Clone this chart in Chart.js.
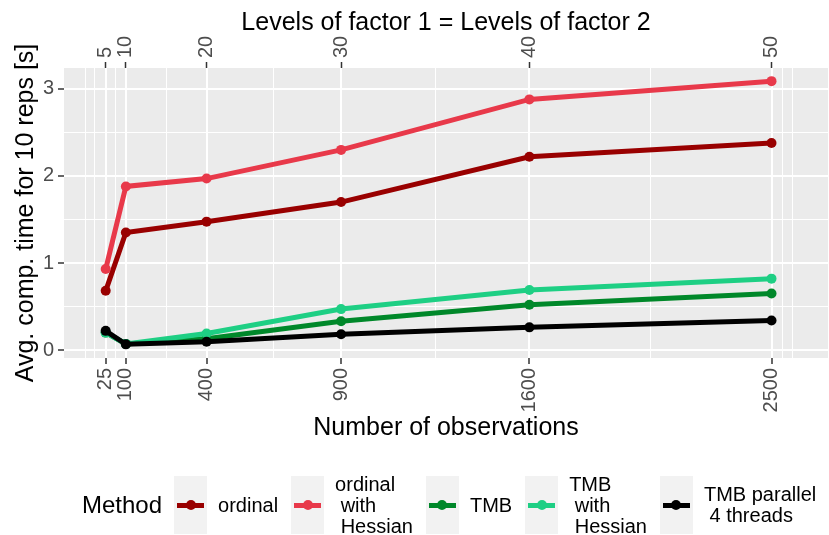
<!DOCTYPE html>
<html>
<head>
<meta charset="utf-8">
<script src="https://cdn.jsdelivr.net/npm/chart.js@4"></script>
<style>
  body { margin: 0; background: #fff; font-family: "Liberation Sans", Arial, sans-serif; overflow: hidden; }
  #wrap { position: relative; width: 829px; height: 535px; overflow: hidden; }
  #legend { position: absolute; left: 82px; top: 476px; height: 58px; display: flex; align-items: center; color: #000; }
  .ltitle { font-size: 24px; margin-right: 12px; }
  .key { position: relative; flex: none; width: 33px; height: 58px; background: #F2F2F2; margin-right: 11px; }
  .kline { position: absolute; left: 3px; right: 3px; top: 26.5px; height: 5px; }
  .kdot { position: absolute; left: 11.5px; top: 24px; width: 10px; height: 10px; border-radius: 50%; }
  .ltext { font-size: 20px; line-height: 21px; white-space: pre; margin-right: 13px; }
</style>
</head>
<body>
<div id="wrap">
  <canvas id="chart" width="833" height="535"></canvas>
  <div id="legend"></div>
</div>
<script>
// number of observations (bottom axis) and factor levels (top axis)
var nObs = [25, 100, 400, 900, 1600, 2500];
var levels = [5, 10, 20, 30, 40, 50];

// avg computation time for 10 reps [s]
var ordinal     = [0.68, 1.35, 1.475, 1.70, 2.22, 2.38];
var ordinalHess = [0.93, 1.88, 1.97, 2.30, 2.88, 3.09];
var tmb         = [0.20, 0.07, 0.13, 0.33, 0.52, 0.65];
var tmbHess     = [0.20, 0.07, 0.19, 0.47, 0.69, 0.82];
var tmbPar      = [0.22, 0.065, 0.095, 0.18, 0.26, 0.34];

var methods = ['ordinal', 'ordinal\n with\n Hessian', 'TMB', 'TMB\n with\n Hessian', 'TMB parallel\n 4 threads'];
var colors = ['#990000', '#E8394A', '#00882A', '#1ECF84', '#000000'];

var yTicks = [0, 1, 2, 3];
var yMinor = [0.5, 1.5, 2.5];
var xMinor = [-49, -15, 62.5, 250, 650, 1250, 2050, 2541, 2578];

Chart.defaults.font.family = '"Liberation Sans", Arial, sans-serif';

var series = [ordinal, ordinalHess, tmb, tmbHess, tmbPar];
var datasets = series.map(function(vals, i) {
  return {
    label: methods[i],
    data: vals.map(function(v, j) { return {x: nObs[j], y: v}; }),
    borderColor: colors[i],
    backgroundColor: colors[i],
    borderWidth: 5,
    pointRadius: 5,
    pointBorderWidth: 0,
    pointHoverRadius: 5,
    tension: 0,
    order: series.length - i
  };
});

function isMajorX(v) { return nObs.indexOf(v) >= 0; }
function isMajorY(v) { return yTicks.indexOf(v) >= 0; }

// no extra side padding from the rotated labels
function noPad(s) { s.paddingLeft = 0; s.paddingRight = 0; }

var panelBg = {
  id: 'panelBg',
  beforeDraw: function(chart) {
    var a = chart.chartArea, c = chart.ctx;
    c.save();
    c.fillStyle = '#EBEBEB';
    c.fillRect(a.left, a.top, a.right - a.left, a.bottom - a.top);
    c.restore();
  }
};

new Chart(document.getElementById('chart'), {
  type: 'line',
  data: { datasets: datasets },
  plugins: [panelBg],
  options: {
    responsive: false,
    animation: false,
    layout: { padding: { left: 0, right: 1, top: 0, bottom: 90 } },
    plugins: { legend: { display: false }, tooltip: { enabled: false } },
    scales: {
      x: {
        type: 'linear', position: 'bottom', min: -130, max: 2710,
        afterBuildTicks: function(s) {
          s.ticks = nObs.concat(xMinor).sort(function(a, b) { return a - b; }).map(function(v) { return {value: v}; });
        },
        afterFit: function(s) { s.height = 87; noPad(s); },
        ticks: {
          minRotation: 90, maxRotation: 90, autoSkip: false, padding: 4,
          color: '#4D4D4D', font: { size: 20 },
          callback: function(v) { return isMajorX(v) ? String(v) : ''; }
        },
        grid: {
          color: '#FFFFFF',
          lineWidth: function(c) { return c.tick && isMajorX(c.tick.value) ? 2 : 1; },
          tickLength: 6,
          tickWidth: 1.5,
          tickColor: function(c) { return c.tick && isMajorX(c.tick.value) ? '#333333' : 'rgba(0,0,0,0)'; }
        },
        border: { display: false },
        title: { display: true, text: 'Number of observations', color: '#000', font: { size: 25 }, padding: { top: 0, bottom: 2 } }
      },
      x2: {
        type: 'linear', position: 'top', min: -130, max: 2710,
        afterBuildTicks: function(s) {
          s.ticks = nObs.map(function(v) { return {value: v}; });
        },
        afterFit: function(s) { s.height = 68; noPad(s); },
        ticks: {
          minRotation: 90, maxRotation: 90, autoSkip: false, padding: 4, labelOffset: 24,
          color: '#4D4D4D', font: { size: 20 },
          callback: function(v) { return String(levels[nObs.indexOf(v)]); }
        },
        grid: { drawOnChartArea: false, tickLength: 6, tickWidth: 1.5, tickColor: '#333333' },
        border: { display: false },
        title: { display: true, text: 'Levels of factor 1 = Levels of factor 2', color: '#000', font: { size: 25 }, padding: { top: 8, bottom: 0 } }
      },
      y: {
        min: -0.092, max: 3.241,
        afterBuildTicks: function(s) {
          s.ticks = yTicks.concat(yMinor).sort(function(a, b) { return a - b; }).map(function(v) { return {value: v}; });
        },
        afterFit: function(s) { s.width = 64; },
        ticks: {
          padding: 4, color: '#4D4D4D', font: { size: 20 },
          callback: function(v) { return isMajorY(v) ? String(v) : ''; }
        },
        grid: {
          color: '#FFFFFF',
          lineWidth: function(c) { return c.tick && isMajorY(c.tick.value) ? 2 : 1; },
          tickLength: 6,
          tickWidth: 1.5,
          tickColor: function(c) { return c.tick && isMajorY(c.tick.value) ? '#333333' : 'rgba(0,0,0,0)'; }
        },
        border: { display: false },
        title: { display: true, text: 'Avg. comp. time for 10 reps [s]', color: '#000', font: { size: 25 }, padding: { top: 11, bottom: 0 } }
      }
    }
  }
});

// legend in ggplot style, built from the same arrays
var html = '<span class="ltitle">Method</span>';
methods.forEach(function(m, i) {
  html += '<span class="key"><span class="kline" style="background:' + colors[i] + '"></span>' +
          '<span class="kdot" style="background:' + colors[i] + '"></span></span>' +
          '<span class="ltext">' + m + '</span>';
});
document.getElementById('legend').innerHTML = html;
</script>
</body>
</html>
